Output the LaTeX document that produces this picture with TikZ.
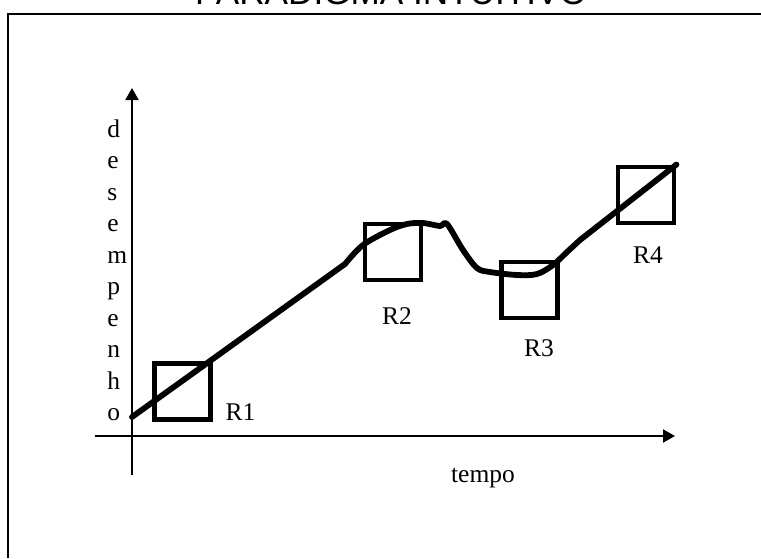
\documentclass[tikz,border=0pt]{standalone}
\usepackage{fontspec}
\setmainfont{Liberation Serif}
\newfontfamily\titulofont{Liberation Sans}
\usepackage{tikz}
\usetikzlibrary{arrows.meta,positioning}

\begin{document}
\begin{tikzpicture}[scale=1.0,>={Triangle[length=0.24cm,width=0.26cm]},
    eixo/.style={line width=1.1pt},
    caixa/.style={draw,line width=2.8pt,minimum size=1.12cm,inner sep=0pt},
    curva/.style={line width=3.3pt,line cap=round,line join=round},
    rotulo/.style={font=\fontsize{14.5}{17}\selectfont,inner sep=0pt}]
  \def\W{15.22}      \def\Hh{11.16}
  \path[use as bounding box,clip] (0,0) rectangle (\W,\Hh);
  % moldura
  \node[font=\titulofont\fontsize{20}{24}\selectfont,anchor=base,inner sep=0pt] (titulo) at (7.82,11.06) {PARADIGMA INTUITIVO};
  \draw[line width=1.1pt] (0.16,0) -- (0.16,10.88) -- (\W,10.88);
  % eixos
  \coordinate (O)  at (2.64,2.44);
  \coordinate (Yb) at (2.64,1.66);
  \coordinate (Yt) at (2.64,9.40);
  \coordinate (Xl) at (1.90,2.44);
  \coordinate (Xr) at (13.50,2.44);
  \draw[eixo,->] (Yb) -- (Yt);
  \draw[eixo,->] (Xl) -- (Xr);
  \foreach \l [count=\i] in {d,e,s,e,m,p,e,n,h,o}
    \node[rotulo,anchor=base west] (d\i) at (2.14,{8.42-0.63*(\i-1)}) {\l};
  \node[rotulo,anchor=base] (tempo) at (9.66,1.52) {tempo};
  % regioes
  \node[caixa] (R1) at (3.65,3.33) {};
  \node[caixa] (R2) at (7.86,6.12) {};
  \node[caixa] (R3) at (10.59,5.36) {};
  \node[caixa] (R4) at (12.92,7.26) {};
  \node[rotulo] (lR1) at (4.81,2.91) {R1};
  \node[rotulo] (lR2) at (7.94,4.84) {R2};
  \node[rotulo] (lR3) at (10.78,4.20) {R3};
  \node[rotulo] (lR4) at (12.96,6.06) {R4};
  % curva de desempenho
  \coordinate (C0) at (2.64,2.82);
  \draw[curva] (C0) -- (6.90,5.88)
    -- plot[smooth,tension=0.55] coordinates {(6.90,5.88) (7.26,6.26) (7.80,6.56) (8.14,6.68)
       (8.46,6.70) (8.80,6.64) (8.94,6.68) (9.26,6.16) (9.54,5.80) (9.80,5.72) (10.34,5.66)
       (10.74,5.68) (11.06,5.86) (11.34,6.12) (11.60,6.36)}
    -- (R4.north east);
\end{tikzpicture}
\end{document}
